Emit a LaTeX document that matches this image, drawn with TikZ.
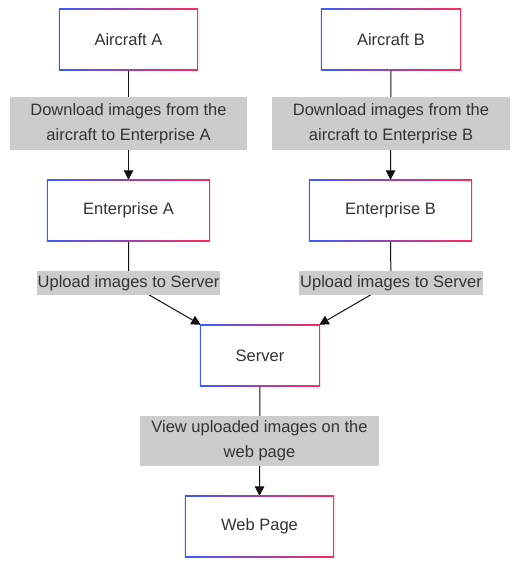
\documentclass[tikz,border=0pt]{standalone}
\usepackage{fontspec}
\setmainfont{Liberation Sans}
\usetikzlibrary{arrows.meta,backgrounds}
\definecolor{txt}{HTML}{333333}
\definecolor{lblgray}{HTML}{CCCCCC}
\definecolor{bblue}{HTML}{3A5BFF}
\definecolor{bred}{HTML}{FF2A5A}
\definecolor{edge}{HTML}{111111}
\newcommand{\gradborder}[1]{%
  \shade[left color=bblue, right color=bred] (#1.south west) rectangle (#1.north east);
  \fill[white] ([xshift=1.6pt,yshift=1.6pt]#1.south west) rectangle ([xshift=-1.6pt,yshift=-1.6pt]#1.north east);}
\begin{document}
\begin{tikzpicture}[x=1pt,y=-1pt,
  every node/.style={font=\fontsize{16.5}{25}\selectfont, text=txt},
  gbox/.style={inner sep=0pt, minimum height=61pt, align=center},
  lbl/.style={fill=lblgray, inner sep=0pt, align=center},
  conn/.style={draw=edge, line width=1pt, -{Triangle[length=9.5pt,width=9.5pt]}}
]
\useasboundingbox (0,0) rectangle (521,568);

% boxes
\node[gbox, minimum width=139pt] (aa) at (128.5,39.5) {Aircraft A};
\node[gbox, minimum width=140pt] (ab) at (391,39.5) {Aircraft B};
\node[gbox, minimum width=163pt] (ea) at (128.5,210.5) {Enterprise A};
\node[gbox, minimum width=163pt] (eb) at (390.5,210.5) {Enterprise B};
\node[gbox, minimum width=120pt] (sv) at (260,355.5) {Server};
\node[gbox, minimum width=149pt] (wp) at (259.5,526.5) {Web Page};

% labels
\node[lbl, minimum width=237pt, minimum height=53pt] (la) at (128.5,123.5) {Download images from the\\aircraft to Enterprise A};
\node[lbl, minimum width=238pt, minimum height=53pt] (lb) at (391,123.5) {Download images from the\\aircraft to Enterprise B};
\node[lbl, minimum width=183pt, minimum height=24pt] (ua) at (128.5,283) {Upload images to Server};
\node[lbl, minimum width=184pt, minimum height=24pt] (ub) at (391,283) {Upload images to Server};
\node[lbl, minimum width=239pt, minimum height=50pt] (lv) at (259.5,441) {View uploaded images on the\\web page};

\begin{scope}[on background layer]
\fill[white] (0,0) rectangle (521,568);
% connectors
\draw[conn] (aa.south) -- (ea.north);
\draw[conn] (ab.south) -- (eb.north);
\draw[conn] (ea.south) -- (ua.center) -- ([xshift=1pt]sv.north west);
\draw[conn] (eb.south) -- (ub.center) -- ([xshift=-1pt]sv.north east);
\draw[conn] (sv.south) -- (wp.north);
% box borders
\gradborder{aa}
\gradborder{ab}
\gradborder{ea}
\gradborder{eb}
\gradborder{sv}
\gradborder{wp}
\end{scope}
\end{tikzpicture}
\end{document}
